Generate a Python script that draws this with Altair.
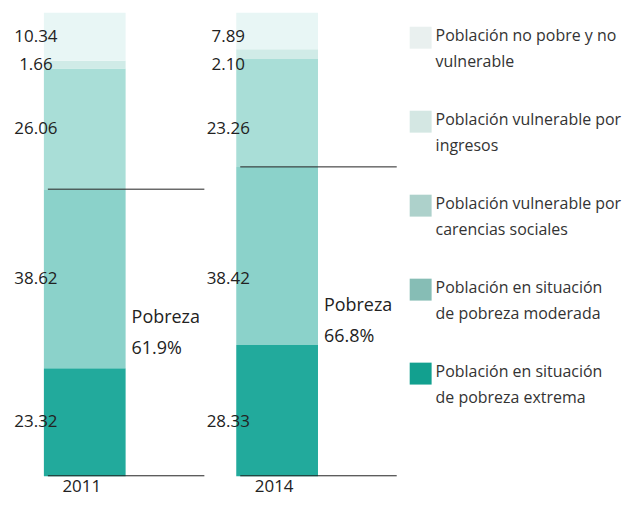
import altair as alt
import pandas as pd

years = ["2011", "2014"]
categories = [
    "Población en situación de pobreza extrema",
    "Población en situación de pobreza moderada",
    "Población vulnerable por carencias sociales",
    "Población vulnerable por ingresos",
    "Población no pobre y no vulnerable",
]
values_2011 = [23.32, 38.62, 26.06, 1.66, 10.34]
values_2014 = [28.33, 38.42, 23.26, 2.10, 7.89]
labels_2011 = ["23.32", "38.62", "26.06", "1.66", "10.34"]
labels_2014 = ["28.33", "38.42", "23.26", "2.10", "7.89"]
pobreza_labels = ["61.9%", "66.8%"]
poor_categories = categories[:2]

bar_colors = ["#22aa9c", "#8bd2ca", "#a9ded7", "#d0ebe7", "#e8f6f5"]
legend_colors = ["#12a08f", "#86bdb5", "#add1cb", "#d4e7e3", "#e9f0ef"]
legend_order = categories[::-1]
legend_lines = [
    "Población no pobre y no\nvulnerable",
    "Población vulnerable por\ningresos",
    "Población vulnerable por\ncarencias sociales",
    "Población en situación\nde pobreza moderada",
    "Población en situación\nde pobreza extrema",
]

FONT = "Open Sans"
H = 465
W = 192

rows = []
for yr, vals, labs in [(years[0], values_2011, labels_2011), (years[1], values_2014, labels_2014)]:
    for i, (c, v, l) in enumerate(zip(categories, vals, labs)):
        rows.append({"year": yr, "cat": c, "value": v, "label": l, "order": i})
df = pd.DataFrame(rows)

color_scale = alt.Scale(domain=categories, range=bar_colors)
yscale = alt.Scale(domain=[0, 100], nice=False)

# stacked positions over both years; value labels aligned on the first year's segment centres
stacked_all = alt.Chart(df).transform_stack(
    stack="value", groupby=["year"], as_=["v0", "v1"], sort=[alt.SortField("order")]
).transform_calculate(
    mid="(datum.v0 + datum.v1) / 2",
).transform_calculate(
    mid_first=f"datum.year == '{years[0]}' ? datum.mid : null"
).transform_joinaggregate(
    label_pos="max(mid_first)", groupby=["cat"]
)


def panel(idx):
    yr = years[idx]
    base = alt.Chart(df).transform_filter(alt.datum.year == yr)
    stacked = stacked_all.transform_filter(alt.datum.year == yr)

    bars = stacked.mark_bar().encode(
        x=alt.value(31),
        x2=alt.value(113),
        y=alt.Y("v0:Q", scale=yscale, axis=None),
        y2="v1:Q",
        color=alt.Color("cat:N", scale=color_scale, legend=None),
    )
    nums = stacked.mark_text(font=FONT, fontSize=17, color="#222222", align="center", baseline="middle").encode(
        x=alt.value(23),
        y=alt.Y("label_pos:Q", scale=yscale, axis=None),
        text="label:N",
    )
    poor = base.transform_filter(
        alt.FieldOneOfPredicate(field="cat", oneOf=poor_categories)
    ).transform_aggregate(total="sum(value)", groupby=["year"]).transform_calculate(
        tpos="datum.total * 0.55", txt=f"'Pobreza\\n{pobreza_labels[idx]}'"
    )
    rule = poor.mark_rule(color="#222222", strokeWidth=1).encode(
        x=alt.value(35), x2=alt.value(192), y=alt.Y("total:Q", scale=yscale, axis=None)
    )
    ptext = poor.mark_text(
        font=FONT, fontSize=18, color="#222222", align="left", baseline="middle", lineBreak="\n", lineHeight=31
    ).encode(x=alt.value(119), y=alt.Y("tpos:Q", scale=yscale, axis=None), text="txt:N")
    base_rule = base.transform_aggregate(n="count()").mark_rule(color="#222222", strokeWidth=1).encode(
        x=alt.value(35), x2=alt.value(192), y=alt.value(H - 0.5)
    )
    ytext = base.transform_aggregate(n="count()").transform_calculate(yr=f"'{yr}'").mark_text(
        font=FONT, fontSize=17, color="#222222", align="center", baseline="middle"
    ).encode(x=alt.value(69), y=alt.value(H + 11), text="yr:N")
    return alt.layer(bars, nums, rule, ptext, base_rule, ytext).properties(width=W, height=H)


leg_df = pd.DataFrame({"cat": legend_order, "text": legend_lines, "col": legend_colors[::-1]})
leg_y = alt.Y("cat:N", sort=legend_order, axis=None, scale=alt.Scale(type="point", range=[25, 362], padding=0))
leg_sq = alt.Chart(leg_df).mark_square(size=484, opacity=1).encode(
    x=alt.value(23), y=leg_y, color=alt.Color("col:N", scale=None)
)
leg_tx = alt.Chart(leg_df).mark_text(
    font=FONT, fontSize=16, color="#333333", align="left", baseline="middle", lineBreak="\n", lineHeight=26, dy=-2
).encode(x=alt.value(38), y=leg_y, text="text:N")
legend = alt.layer(leg_sq, leg_tx).properties(width=212, height=H)

chart = alt.hconcat(panel(0), panel(1), legend, spacing=0).configure_view(stroke=None).properties(
    padding={"left": 5, "top": 4, "right": 0, "bottom": 0}
)

chart.save("out.html", embed_options={"renderer": "svg", "actions": False})
